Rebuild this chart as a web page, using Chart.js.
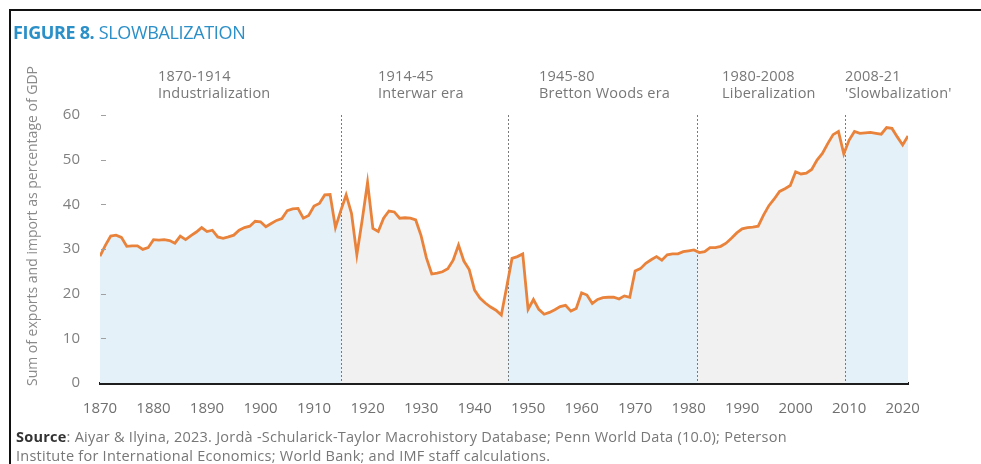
<!DOCTYPE html>
<html>
<head>
<meta charset="utf-8">
<title>Figure 8. Slowbalization</title>
<script src="https://cdn.jsdelivr.net/npm/chart.js@4.4.1/dist/chart.umd.min.js"></script>
<style>
  body { margin: 0; background: #fff; }
  #wrap { position: relative; width: 981px; height: 464px; overflow: hidden; font-family: "Open Sans", sans-serif; }
  #frame { position: absolute; left: 9px; top: 9px; width: 990px; height: 470px; border-top: 2.5px solid #111; border-left: 2.5px solid #111; }
  #title { position: absolute; left: 13px; top: 20px; font-size: 18px; line-height: 24px; color: #2b8fc8; letter-spacing: -0.35px; white-space: nowrap; }
  #title b { font-weight: 700; }
  .era { position: absolute; top: 67px; font-size: 14.5px; line-height: 17px; color: #777; letter-spacing: 0.2px; white-space: nowrap; }
  #source { position: absolute; left: 16px; top: 427px; font-size: 14.5px; line-height: 19px; color: #777; letter-spacing: 0.25px; white-space: nowrap; }
  #source b { color: #333; }
  canvas { position: absolute; left: 0; top: 0; }
</style>
</head>
<body>
<div id="wrap">
  <canvas id="grafica"></canvas>
  <div id="frame"></div>
  <div id="title"><b>FIGURE 8.</b> SLOWBALIZATION</div>
  <div class="era" style="left:158px">1870-1914<br>Industrialization</div>
  <div class="era" style="left:378px">1914-45<br>Interwar era</div>
  <div class="era" style="left:539px">1945-80<br>Bretton Woods era</div>
  <div class="era" style="left:722px">1980-2008<br>Liberalization</div>
  <div class="era" style="left:845px">2008-21<br>'Slowbalization'</div>
  <div id="source"><b>Source</b>: Aiyar &amp; Ilyina, 2023. Jordà -Schularick-Taylor Macrohistory Database; Penn World Data (10.0); Peterson<br>Institute for International Economics; World Bank; and IMF staff calculations.</div>
</div>

<script>
// Trade openness: exports + imports as % of GDP, one value per year

const years = [
    1870, 1871, 1872, 1873, 1874, 1875, 1876, 1877, 1878, 1879,
    1880, 1881, 1882, 1883, 1884, 1885, 1886, 1887, 1888, 1889,
    1890, 1891, 1892, 1893, 1894, 1895, 1896, 1897, 1898, 1899,
    1900, 1901, 1902, 1903, 1904, 1905, 1906, 1907, 1908, 1909,
    1910, 1911, 1912, 1913, 1914, 1915, 1916, 1917, 1918, 1919,
    1920, 1921, 1922, 1923, 1924, 1925, 1926, 1927, 1928, 1929,
    1930, 1931, 1932, 1933, 1934, 1935, 1936, 1937, 1938, 1939,
    1940, 1941, 1942, 1943, 1944, 1945, 1946, 1947, 1948, 1949,
    1950, 1951, 1952, 1953, 1954, 1955, 1956, 1957, 1958, 1959,
    1960, 1961, 1962, 1963, 1964, 1965, 1966, 1967, 1968, 1969,
    1970, 1971, 1972, 1973, 1974, 1975, 1976, 1977, 1978, 1979,
    1980, 1981, 1982, 1983, 1984, 1985, 1986, 1987, 1988, 1989,
    1990, 1991, 1992, 1993, 1994, 1995, 1996, 1997, 1998, 1999,
    2000, 2001, 2002, 2003, 2004, 2005, 2006, 2007, 2008, 2009,
    2010, 2011, 2012, 2013, 2014, 2015, 2016, 2017, 2018, 2019,
    2020, 2021
];

const tradeShare = [
    28.4, 30.8, 32.9, 33.1, 32.6, 30.6, 30.7, 30.7, 29.9, 30.3,
    32.1, 32.0, 32.1, 31.9, 31.3, 32.9, 32.1, 33.0, 33.8, 34.8,
    33.9, 34.2, 32.7, 32.4, 32.7, 33.1, 34.2, 34.8, 35.1, 36.2,
    36.1, 35.0, 35.7, 36.4, 36.8, 38.6, 39.0, 39.1, 36.9, 37.5,
    39.6, 40.2, 42.1, 42.2, 34.8, 38.6, 42.1, 38.0, 28.7, 36.5,
    44.9, 34.6, 33.9, 36.9, 38.5, 38.3, 36.9, 37.0, 36.9, 36.5,
    33.0, 28.0, 24.4, 24.6, 24.9, 25.6, 27.5, 30.9, 27.3, 25.4,
    20.8, 19.0, 17.9, 17.0, 16.3, 15.2, 21.5, 27.9, 28.3, 28.9,
    16.5, 18.7, 16.5, 15.4, 15.8, 16.4, 17.1, 17.4, 16.1, 16.7,
    20.2, 19.7, 17.8, 18.7, 19.1, 19.2, 19.2, 18.8, 19.5, 19.2,
    25.1, 25.6, 26.8, 27.6, 28.3, 27.5, 28.7, 28.9, 28.9, 29.4,
    29.6, 29.8, 29.2, 29.4, 30.3, 30.3, 30.6, 31.3, 32.4, 33.6,
    34.5, 34.8, 34.9, 35.1, 37.6, 39.7, 41.2, 42.9, 43.5, 44.2,
    47.3, 46.8, 47.0, 47.8, 49.9, 51.4, 53.6, 55.6, 56.3, 51.3,
    54.4, 56.3, 55.9, 56.0, 56.1, 55.9, 55.7, 57.2, 57.0, 55.1,
    53.3, 55.3
];

// where one era ends and the next begins (dotted lines)
const eraBreaks = [1915, 1946.3, 1981.5, 2009.2];
const eraColors = ["#e4f1f9", "#f1f1f1", "#e4f1f9", "#f1f1f1", "#e4f1f9"];

const yTicks = [0, 10, 20, 30, 40, 50, 60];
const yTitle = "Sum of exports and import as percentage of GDP";

// fill under the line, coloured by era with hard colour stops
function eraFill(context) {
    let chart = context.chart;
    let area = chart.chartArea;
    let xs = chart.scales.x;
    if (!area || !xs) return eraColors[0];
    let g = chart.ctx.createLinearGradient(area.left, 0, area.right, 0);
    let w = area.right - area.left;
    g.addColorStop(0, eraColors[0]);
    for (let i = 0; i < eraBreaks.length; i++) {
        let f = (xs.getPixelForValue(eraBreaks[i]) - area.left) / w;
        f = Math.min(1, Math.max(0, f));
        g.addColorStop(f, eraColors[i]);
        g.addColorStop(f, eraColors[i + 1]);
    }
    g.addColorStop(1, eraColors[eraColors.length - 1]);
    return g;
}

const eraLines = {
    id: "eraLines",
    beforeDatasetsDraw(chart) {
        let ctx = chart.ctx;
        let area = chart.chartArea;
        let xs = chart.scales.x;
        ctx.save();
        ctx.strokeStyle = "#7a7a7a";
        ctx.lineWidth = 1;
        ctx.setLineDash([2, 2]);
        for (let i = 0; i < eraBreaks.length; i++) {
            let px = Math.round(xs.getPixelForValue(eraBreaks[i])) + 0.5;
            ctx.beginPath();
            ctx.moveTo(px, area.top);
            ctx.lineTo(px, area.bottom);
            ctx.stroke();
        }
        ctx.restore();
    },
    afterDatasetsDraw(chart) {
        let ctx = chart.ctx;
        let area = chart.chartArea;
        let ys = chart.scales.y;
        ctx.save();
        // little dash marks inside the plot for each y tick
        ctx.strokeStyle = "#a0a0a0";
        ctx.lineWidth = 1;
        for (let i = 1; i < yTicks.length; i++) {
            let py = Math.round(ys.getPixelForValue(yTicks[i])) + 0.5;
            ctx.beginPath();
            ctx.moveTo(area.left + 1, py);
            ctx.lineTo(area.left + 6, py);
            ctx.stroke();
        }
        // rotated y axis title
        ctx.translate(33, 226);
        ctx.rotate(-Math.PI / 2);
        ctx.fillStyle = "#8a8a8a";
        ctx.font = "14px 'Open Sans'";
        ctx.textAlign = "center";
        ctx.textBaseline = "middle";
        ctx.fillText(yTitle, 0, 0);
        ctx.restore();
    }
};

let ctx = document.getElementById("grafica");
let myChart = new Chart(ctx, {
    type: "line",
    data: {
        labels: years,
        datasets: [{
            label: "Trade openness",
            data: tradeShare,
            borderColor: "#e9833b",
            borderWidth: 2.8,
            backgroundColor: eraFill,
            fill: "origin",
            pointRadius: 0,
            tension: 0
        }]
    },
    options: {
        responsive: true,
        maintainAspectRatio: false,
        animation: false,
        layout: { padding: { top: 115, right: 73, left: 0, bottom: 0 } },
        plugins: {
            legend: { display: false },
            tooltip: { enabled: false },
            filler: { drawTime: "beforeDatasetsDraw" }
        },
        scales: {
            x: {
                type: "linear",
                min: 1870,
                max: 2021,
                grid: { display: false, drawTicks: false },
                border: { display: true, color: "#1e1e1e", width: 3 },
                ticks: {
                    stepSize: 10,
                    includeBounds: false,
                    padding: 17,
                    color: "#707070",
                    font: { family: "Open Sans", size: 15 },
                    maxRotation: 0,
                    callback: v => (v % 10 === 0 ? String(v) : "")
                },
                afterFit: s => { s.height = 81; }
            },
            y: {
                min: 0,
                max: 60,
                grid: { display: false, drawTicks: false },
                border: { display: false },
                ticks: {
                    stepSize: 10,
                    padding: 20,
                    color: "#808080",
                    font: { family: "Open Sans", size: 15 }
                },
                afterFit: s => { s.width = 100; }
            }
        }
    },
    plugins: [eraLines]
});
</script>
</body>
</html>
